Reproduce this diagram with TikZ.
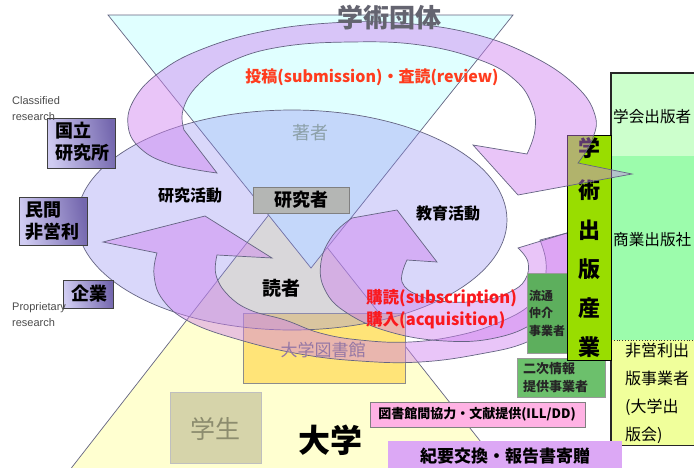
\documentclass[tikz,border=0pt]{standalone}
\usepackage{fontspec}
\setmainfont{Noto Sans CJK JP}
\newfontfamily\latf{Liberation Sans}
\definecolor{cyanT}{RGB}{224,255,255}
\definecolor{yellowT}{RGB}{255,255,208}
\definecolor{ellF}{RGB}{140,135,240}
\definecolor{ringF}{RGB}{208,128,240}
\definecolor{edgeC}{RGB}{100,100,130}
\definecolor{libY}{RGB}{255,228,120}
\definecolor{grayBox}{RGB}{180,182,180}
\definecolor{studentF}{RGB}{214,212,170}
\definecolor{studentT}{RGB}{140,140,110}
\definecolor{redO}{RGB}{255,60,30}
\definecolor{redR}{RGB}{250,25,30}
\definecolor{authorC}{RGB}{140,160,168}
\definecolor{libT}{RGB}{150,120,165}
\definecolor{titleC}{RGB}{100,100,112}
\definecolor{limeG}{RGB}{153,221,0}
\definecolor{pubA}{RGB}{204,255,204}
\definecolor{pubB}{RGB}{156,252,172}
\definecolor{pubC}{RGB}{240,255,155}
\definecolor{distG}{RGB}{93,175,93}
\definecolor{secG}{RGB}{108,192,108}
\definecolor{pinkB}{RGB}{255,178,228}
\definecolor{violB}{RGB}{220,168,245}
\definecolor{pL}{RGB}{208,204,242}
\definecolor{pD}{RGB}{116,103,174}
\begin{document}
\begin{tikzpicture}[x=1pt,y=-1pt,
  edge/.style={draw=edgeC, line width=0.7pt},
  ringshape/.style={edge, fill=ringF, fill opacity=0.45},
  pbox/.style={draw=black!75, line width=0.8pt, left color=pL, right color=pD, shading angle=100, anchor=north west, align=left, inner sep=0pt, font=\bfseries\fontsize{18}{22}\selectfont},
  jlab/.style={inner sep=0pt, font=\bfseries\fontsize{16}{18}\selectfont},
  smalllat/.style={inner sep=0pt, align=left, text=black!70, font=\latf\fontsize{11}{16}\selectfont}
]
\useasboundingbox (0,0) rectangle (694,467);
\clip (0,0) rectangle (694,467);
\fill[white] (0,0) rectangle (694,467);

% lower triangle (university)
\filldraw[edge, fill=yellowT] (285,194) -- (62,480) -- (511,480) -- cycle;
% upper triangle (academic societies)
\filldraw[edge, fill=cyanT] (108,15) -- (513,15) -- (311,268) -- cycle;

% university library box (under ellipse and arrows)
\node[draw=black!45, fill=libY, minimum width=162pt, minimum height=70pt, anchor=north west, inner sep=0pt] (lib) at (243,313) {};

% big ellipse
\filldraw[edge, fill=ellF, fill opacity=0.33] (292,220) ellipse [x radius=215, y radius=110];

% lower-left return arrow
\filldraw[ringshape] plot[smooth,tension=0.7] coordinates {(540,240) (546,262) (543,285) (530,305) (500,322) (460,335) (410,342) (360,340) (320,333) (285,320) (250,310) (228,295) (216,275) (217,255)}
 -- (272,258) -- (205,216) -- (103,242) -- (157,253)
 -- plot[smooth,tension=0.7] coordinates {(157,253) (154,275) (163,300) (190,322) (240,340) (300,354) (360,361) (420,362) (480,354) (527,342) (560,320) (578,285) (575,250) (567,233)} -- cycle;

% education loop arrow
\filldraw[ringshape] plot[smooth,tension=0.7] coordinates {(518,248) (528,262) (525,280) (510,292) (485,300) (450,302) (420,296) (402,282) (407,260)}
 -- (437,262) -- (397,210) -- (352,218)
 -- plot[smooth,tension=0.7] coordinates {(352,218) (333,235) (321,262) (325,290) (347,313) (390,332) (445,341) (495,338) (535,322) (560,295) (570,263) (567,233)} -- cycle;

% right publisher boxes
\node[fill=pubA, minimum width=90pt, minimum height=83pt, anchor=north west, inner sep=0pt] (gakkai) at (611,73) {};
\node[fill=pubB, minimum width=90pt, minimum height=184pt, anchor=north west, inner sep=0pt] (shogyo) at (611,156) {};
\node[fill=pubC, minimum width=90pt, minimum height=105pt, anchor=north west, inner sep=0pt] (hieiri) at (611,340) {};
\draw[black!80, dotted, line width=0.8pt] (shogyo.south west) -- (shogyo.south east);
\draw[black!85, line width=1.2pt] (gakkai.north east) -- (gakkai.north west) -- (hieiri.south west) -- (hieiri.south east);
\node[inner sep=0pt, font=\fontsize{15.6}{18}\selectfont, anchor=west] (gakkaiT) at (613,117) {学会出版者};
\node[inner sep=0pt, font=\fontsize{15.6}{18}\selectfont, anchor=west] (shogyoT) at (613,240) {商業出版社};
\node[inner sep=0pt, anchor=north west, align=left, font=\fontsize{16}{28}\selectfont] (hieiriT) at (625,343) {非営利出\\版事業者\\(大学出\\版会)};

% distribution boxes
\node[draw=black!40, fill=distG, minimum width=40pt, minimum height=80pt, anchor=north west, inner sep=0pt] (ryutsu) at (527,273) {};
\node[inner sep=0pt, anchor=north west, align=left, text=black!85, font=\bfseries\fontsize{12}{17.5}\selectfont] (ryutsuT) at (529,290) {流通\\仲介\\事業者};
\node[draw=black!40, fill=secG, minimum width=88pt, minimum height=39pt, anchor=north west, inner sep=0pt] (niji) at (517,358) {};
\node[inner sep=0pt, anchor=north west, align=left, text=black!85, font=\bfseries\fontsize{13}{18}\selectfont] (nijiT) at (523,362) {二次情報\\提供事業者};

% scholarly publishing industry box
\node[draw=black, line width=1.2pt, fill=limeG, minimum width=44pt, minimum height=225pt, anchor=north west, inner sep=0pt] (sangyo) at (567,135) {};
\foreach \ch/\yy [count=\i] in {学/148,術/190,出/230,版/269,産/308,業/347}
  \node[inner sep=0pt, font=\bfseries\fontsize{22}{24}\selectfont] (sg\i) at (589,\yy) {\ch};

% upper ring arrow (submission / review)
\filldraw[ringshape] plot[smooth,tension=0.7] coordinates {(217,173) (170,164) (140,148) (128,125) (135,98) (160,72) (200,50) (260,32) (330,23) (400,23) (470,33) (530,55) (575,85) (595,115) (592,140) (578,163)}
 -- (632,174) -- (518,195) -- (473,145) -- (527,154)
 -- plot[smooth,tension=0.7] coordinates {(527,154) (535,130) (532,105) (515,80) (480,60) (420,45) (350,42) (280,47) (230,62) (198,85) (183,110) (184,130)} -- cycle;

% left organisation boxes
\node[pbox, minimum width=68pt, minimum height=50pt] (kokuritsu) at (47,118) {};
\node[inner sep=0pt, anchor=north west, align=left, font=\bfseries\fontsize{18}{22}\selectfont] (kokuritsuT) at (55,122) {国立\\研究所};
\node[pbox, minimum width=68pt, minimum height=48pt] (minkan) at (19,197) {};
\node[inner sep=0pt, anchor=north west, align=left, font=\bfseries\fontsize{18}{22}\selectfont] (minkanT) at (25,202) {民間\\非営利};
\node[pbox, minimum width=50pt, minimum height=28pt] (kigyo) at (63,280) {};
\node[inner sep=0pt, font=\bfseries\fontsize{18}{20}\selectfont] (kigyoT) at (89,294) {企業};
\node[smalllat, anchor=north west] (classified) at (12,96) {Classified\\research};
\node[smalllat, anchor=north west] (proprietary) at (12,302) {Proprietary\\research};

% student box
\node[draw=black!25, fill=studentF, minimum width=91pt, minimum height=71pt, anchor=north west, inner sep=0pt] (student) at (170,392) {};
\node[inner sep=0pt, text=studentT, font=\fontsize{25}{27}\selectfont] (studentT) at (215,429) {学生};

% bottom boxes
\node[draw=black!50, fill=pinkB, minimum width=215pt, minimum height=25pt, anchor=north west, inner sep=0pt] (ill) at (370,402) {};
\node[inner sep=0pt, font=\bfseries\fontsize{13}{15}\selectfont] (illT) at (477,414) {図書館間協力・文献提供(ILL/DD)};
\node[fill=violB, minimum width=234pt, minimum height=30pt, anchor=north west, inner sep=0pt] (kiyo) at (388,441) {};
\node[inner sep=0pt, font=\bfseries\fontsize{17}{19}\selectfont] (kiyoT) at (505,456) {紀要交換・報告書寄贈};

% researcher box
\node[draw=black!50, fill=grayBox, minimum width=96pt, minimum height=26pt, inner sep=0pt, font=\bfseries\fontsize{18}{20}\selectfont] (kenkyusha) at (301,200) {研究者};

% labels
\node[inner sep=0pt, text=titleC, font=\bfseries\fontsize{26}{28}\selectfont] (title) at (389,18) {学術団体};
\node[inner sep=0pt, text=redO, font=\bfseries\fontsize{16}{18}\selectfont] (toko) at (372,77) {投稿(submission)・査読(review)};
\node[inner sep=0pt, text=authorC, font=\fontsize{18}{20}\selectfont] (chosha) at (310,133) {著者};
\node[jlab] (kenkyukatsudo) at (190,195) {研究活動};
\node[jlab] (kyoikukatsudo) at (448,213) {教育活動};
\node[inner sep=0pt, font=\bfseries\fontsize{19}{21}\selectfont] (dokusha) at (281,288) {読者};
\node[inner sep=0pt, text=libT, font=\fontsize{17}{19}\selectfont] (libT) at (323,350) {大学図書館};
\node[inner sep=0pt, anchor=north west, align=left, text=redR, font=\bfseries\fontsize{16.5}{22}\selectfont] (kodoku) at (366,289) {購読(subscription)\\購入(acquisition)};
\node[inner sep=0pt, font=\bfseries\fontsize{32}{34}\selectfont] (daigaku) at (330,440) {大学};
\end{tikzpicture}
\end{document}
